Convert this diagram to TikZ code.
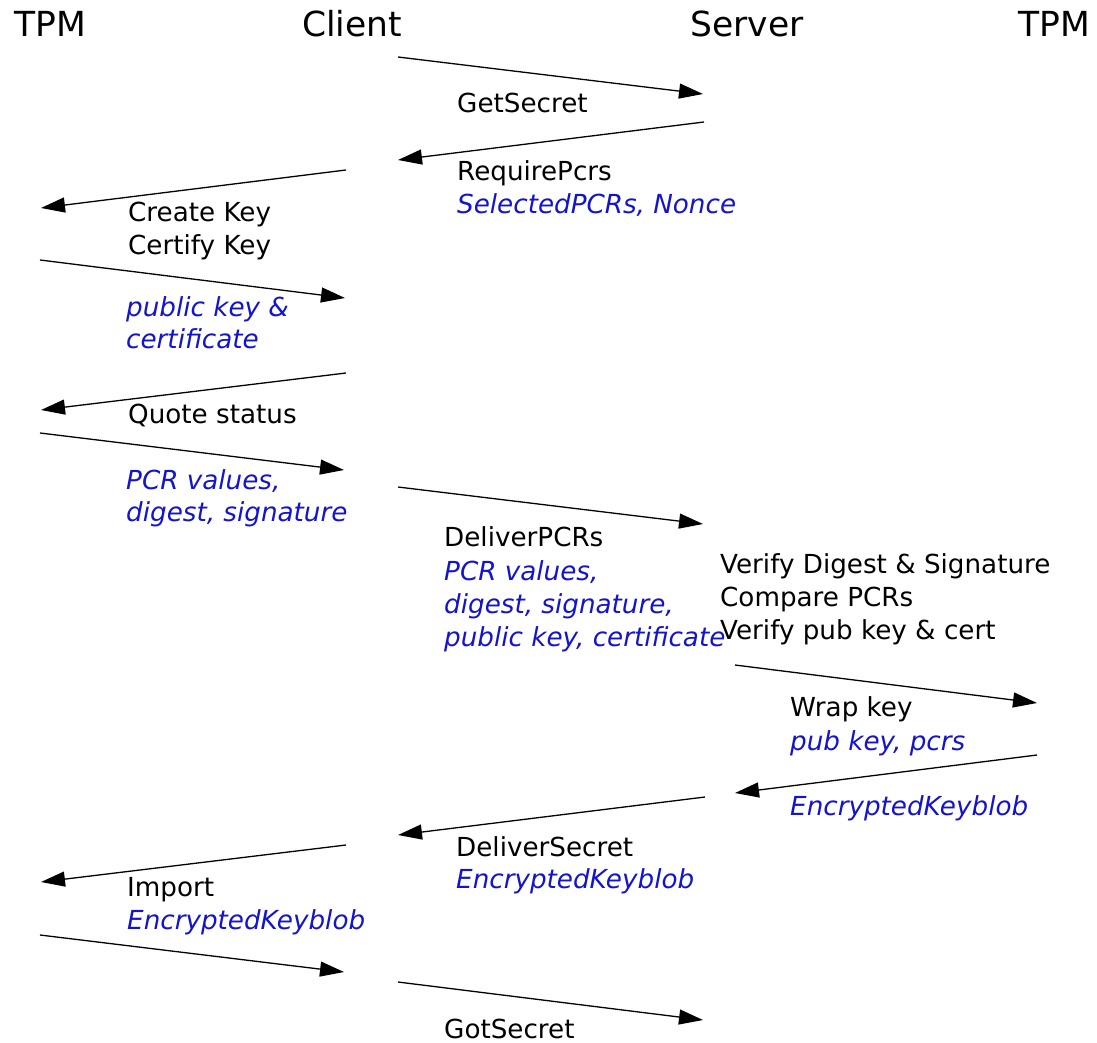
\documentclass[tikz,border=0pt]{standalone}
\usepackage{fontspec}
\setmainfont{DejaVu Sans}
\usetikzlibrary{arrows.meta}
\definecolor{lblblue}{RGB}{20,20,205}
\begin{document}
\begin{tikzpicture}[x=1pt,y=-1pt,
  msg/.style={line width=1.3pt,-{Triangle[length=24pt,width=15pt]}},
  hdr/.style={font=\fontsize{34.5}{40}\selectfont,anchor=base,inner sep=0},
  lbl/.style={font=\fontsize{26.2}{32}\selectfont,anchor=base west,inner sep=0},
  arg/.style={font=\fontsize{26.2}{32}\selectfont\itshape,text=lblblue,anchor=base west,inner sep=0}]
\useasboundingbox[fill=white] (0,0) rectangle (1097,1043);

% headers
\node[hdr] (tpmL) at (50,37) {TPM};
\node[hdr] (client) at (352,37) {Client};
\node[hdr] (server) at (747,37) {Server};
\node[hdr] (tpmR) at (1054,37) {TPM};

% arrow end points
\coordinate (a1s) at (398,57);   \coordinate (a1e) at (703,94);
\coordinate (a2s) at (704,122);  \coordinate (a2e) at (398,160);
\coordinate (a3s) at (346,170);  \coordinate (a3e) at (41,208);
\coordinate (a4s) at (40,260);   \coordinate (a4e) at (345,298);
\coordinate (a5s) at (346,373);  \coordinate (a5e) at (41,410);
\coordinate (a6s) at (40,433);   \coordinate (a6e) at (344,470);
\coordinate (a7s) at (398,487);  \coordinate (a7e) at (703,524);
\coordinate (a8s) at (735,665);  \coordinate (a8e) at (1037,703);
\coordinate (a9s) at (1037,755); \coordinate (a9e) at (735,793);
\coordinate (a10s) at (705,797); \coordinate (a10e) at (398,835);
\coordinate (a11s) at (346,845); \coordinate (a11e) at (41,882);
\coordinate (a12s) at (40,935);  \coordinate (a12e) at (344,972);
\coordinate (a13s) at (398,982); \coordinate (a13e) at (703,1020);

\foreach \i in {1,...,13} \draw[msg] (a\i s) -- (a\i e);

% labels
\node[lbl] (getsecret) at (457,113) {GetSecret};
\node[lbl] (reqpcrs) at (457,181) {RequirePcrs};
\node[arg] (reqpcrsA) at (457,213) {SelectedPCRs, Nonce};
\node[lbl] (createkey) at (128,222) {Create Key};
\node[lbl] (certkey) at (128,254) {Certify Key};
\node[arg] (pubkey1) at (126,316) {public key \&};
\node[arg] (pubkey2) at (126,348) {certificate};
\node[lbl] (quote) at (128,423) {Quote status};
\node[arg] (pcrv1) at (126,489) {PCR values,};
\node[arg] (pcrv2) at (126,521) {digest, signature};
\node[lbl] (deliverpcrs) at (444,546) {DeliverPCRs};
\node[arg] (dp1) at (444,580) {PCR values,};
\node[arg] (dp2) at (444,613) {digest, signature,};
\node[arg] (dp3) at (444,646) {public key, certificate};
\node[lbl] (ver1) at (720,573) {Verify Digest \& Signature};
\node[lbl] (ver2) at (720,606) {Compare PCRs};
\node[lbl] (ver3) at (720,639) {Verify pub key \& cert};
\node[lbl] (wrap) at (790,716) {Wrap key};
\node[arg] (wrapA) at (790,750) {pub key, pcrs};
\node[arg] (ekb1) at (790,815) {EncryptedKeyblob};
\node[lbl] (delsec) at (456,856) {DeliverSecret};
\node[arg] (ekb2) at (456,888) {EncryptedKeyblob};
\node[lbl] (import) at (127,896) {Import};
\node[arg] (ekb3) at (127,929) {EncryptedKeyblob};
\node[lbl] (gotsecret) at (444,1038) {GotSecret};
\end{tikzpicture}
\end{document}
